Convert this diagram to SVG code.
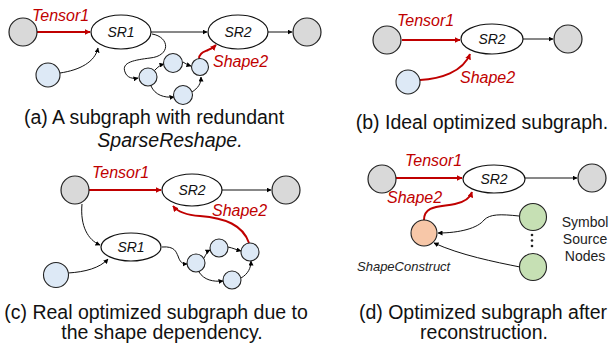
<svg xmlns="http://www.w3.org/2000/svg" width="615" height="348" viewBox="0 0 615 348">
  <defs>
    <marker id="ah" viewBox="0 0 10 10" refX="9" refY="5" markerWidth="5" markerHeight="5" orient="auto" markerUnits="userSpaceOnUse">
      <path d="M0,0 L10,5 L0,10 z" fill="#000"/>
    </marker>
    <marker id="ahr" viewBox="0 0 10 10" refX="9" refY="5" markerWidth="6" markerHeight="6" orient="auto" markerUnits="userSpaceOnUse">
      <path d="M0,0 L10,5 L0,10 z" fill="#c00000"/>
    </marker>
    <style>
      .gray { fill: #d9d9d9; stroke: #222; stroke-width: 1.2; }
      .blue { fill: #dde9f6; stroke: #222; stroke-width: 1.1; }
      .green { fill: #c6e0b4; stroke: #222; stroke-width: 1.1; }
      .orange { fill: #f7c7a8; stroke: #222; stroke-width: 1.1; }
      .op { fill: #fff; stroke: #111; stroke-width: 1.2; }
      .e { fill: none; stroke: #111; stroke-width: 1; marker-end: url(#ah); }
      .r { fill: none; stroke: #c00000; stroke-width: 2; marker-end: url(#ahr); }
      .lbl { font-family: "Liberation Sans", Arial, sans-serif; font-style: italic; font-size: 16px; fill: #c00000; }
      .op-t { font-family: "Liberation Sans", Arial, sans-serif; font-style: italic; font-size: 14px; fill: #111; text-anchor: middle; }
      .cap { font-family: "Liberation Sans", Arial, sans-serif; font-size: 19.5px; fill: #111; text-anchor: middle; }
      .note { font-family: "Liberation Sans", Arial, sans-serif; font-size: 14px; fill: #222; text-anchor: middle; }
    </style>
  </defs>

  <!-- (a) subgraph with redundant SparseReshape -->
  <g id="a-connectors">
    <path class="r" d="M37,32 L90,32"/>
    <path class="e" d="M151,32 L207,32"/>
    <path class="e" d="M268,32 L292,32"/>
    <path class="e" d="M60,73 C80,70 95,62 98,48"/>
    <path class="e" d="M152,34 C170,37 171,56 150,58 C135,60 121,62 125,72 C127,78 133,79 138,78"/>
    <path class="e" d="M155,70 C158,67 160,65 164,64"/>
    <path class="e" d="M183,62 C186,64 188,65 191,66"/>
    <path class="e" d="M151,86 C155,95 164,98 174,97"/>
    <path class="e" d="M192,92 C198,88 201,84 201,77"/>
    <path class="r" d="M199,59 C199,53 204,52 208,50 C212,49 214,47 216,45"/>
  </g>
  <g id="a-in"><circle class="gray" cx="23" cy="32" r="14"/></g>
  <g id="a-out"><circle class="gray" cx="307" cy="32" r="14"/></g>
  <g id="a-sr1"><ellipse class="op" cx="121" cy="32" rx="30" ry="17"/><text class="op-t" x="121" y="37">SR1</text></g>
  <g id="a-sr2"><ellipse class="op" cx="238" cy="32" rx="30" ry="17"/><text class="op-t" x="238" y="37">SR2</text></g>
  <g id="a-src"><circle class="blue" cx="48" cy="75" r="12"/></g>
  <g id="a-c1"><circle class="blue" cx="148" cy="77" r="9"/></g>
  <g id="a-c2"><circle class="blue" cx="173" cy="63" r="9.5"/></g>
  <g id="a-c3"><circle class="blue" cx="200" cy="67" r="8.5"/></g>
  <g id="a-c4"><circle class="blue" cx="183" cy="95" r="9.5"/></g>
  <text class="lbl" x="32" y="21">Tensor1</text>
  <text class="lbl" x="213" y="67">Shape2</text>
  <text class="cap" x="154" y="124">(a) A subgraph with redundant</text>
  <text class="cap" x="170" y="147" font-style="italic">SparseReshape.</text>

  <!-- (b) ideal optimized subgraph -->
  <g id="b-connectors">
    <path class="r" d="M402,40 L460,40"/>
    <path class="e" d="M523,39 L553,39"/>
    <path class="r" d="M420,80 C440,79 463,72 470,54"/>
  </g>
  <g id="b-in"><circle class="gray" cx="387" cy="40" r="14"/></g>
  <g id="b-out"><circle class="gray" cx="568" cy="39" r="14"/></g>
  <g id="b-sr2"><ellipse class="op" cx="492" cy="39" rx="31" ry="15"/><text class="op-t" x="492" y="44">SR2</text></g>
  <g id="b-src"><circle class="blue" cx="408" cy="82" r="12"/></g>
  <text class="lbl" x="397" y="26">Tensor1</text>
  <text class="lbl" x="460" y="83">Shape2</text>
  <text class="cap" x="482" y="129">(b) Ideal optimized subgraph.</text>

  <!-- (c) real optimized subgraph -->
  <g id="c-connectors">
    <path class="r" d="M89,190 L161,190"/>
    <path class="e" d="M222,190 L271,190"/>
    <path class="e" d="M82,204 C80,226 88,240 100,245"/>
    <path class="e" d="M68,273 C85,272 100,268 108,259"/>
    <path class="e" d="M162,247 C175,246 176,252 178,256 C180,262 182,264 187,264"/>
    <path class="e" d="M204,258 C206,254 208,251 210,250"/>
    <path class="e" d="M228,247 C233,248 237,250 241,251"/>
    <path class="e" d="M199,272 C204,280 213,282 223,281"/>
    <path class="e" d="M241,278 C248,274 251,268 251,261"/>
    <path class="r" d="M249,243 C243,225 225,218 200,216 C185,215 177,211 173,206"/>
  </g>
  <g id="c-in"><circle class="gray" cx="75" cy="190" r="14"/></g>
  <g id="c-out"><circle class="gray" cx="286" cy="190" r="14"/></g>
  <g id="c-sr2"><ellipse class="op" cx="192" cy="190" rx="30" ry="16"/><text class="op-t" x="192" y="195">SR2</text></g>
  <g id="c-sr1"><ellipse class="op" cx="131" cy="247" rx="30" ry="14"/><text class="op-t" x="131" y="252">SR1</text></g>
  <g id="c-src"><circle class="blue" cx="56" cy="275" r="12.5"/></g>
  <g id="c-c1"><circle class="blue" cx="196" cy="263" r="9"/></g>
  <g id="c-c2"><circle class="blue" cx="219" cy="248" r="9"/></g>
  <g id="c-c3"><circle class="blue" cx="250" cy="252" r="9"/></g>
  <g id="c-c4"><circle class="blue" cx="232" cy="280" r="9"/></g>
  <text class="lbl" x="92" y="178">Tensor1</text>
  <text class="lbl" x="212" y="216">Shape2</text>
  <text class="cap" x="156" y="319">(c) Real optimized subgraph due to</text>
  <text class="cap" x="162" y="339">the shape dependency.</text>

  <!-- (d) optimized subgraph after reconstruction -->
  <g id="d-connectors">
    <path class="r" d="M396,178 L462,178"/>
    <path class="e" d="M525,178 L577,178"/>
    <path class="r" d="M424,220 C424,205 440,207 455,204 C465,202 470,198 472,192"/>
    <path class="e" d="M519,216 C500,214 490,214 484,220 C478,228 460,233 438,233"/>
    <path class="e" d="M520,267 C495,262 460,255 434,243"/>
  </g>
  <g id="d-in"><circle class="gray" cx="382" cy="179" r="14"/></g>
  <g id="d-out"><circle class="gray" cx="592" cy="178" r="14"/></g>
  <g id="d-sr2"><ellipse class="op" cx="494" cy="179" rx="31" ry="14"/><text class="op-t" x="494" y="184">SR2</text></g>
  <g id="d-shapeconstruct"><circle class="orange" cx="424" cy="233" r="13"/></g>
  <g id="d-sym1"><circle class="green" cx="533" cy="217" r="13.5"/></g>
  <g id="d-sym2"><circle class="green" cx="533" cy="267" r="13.5"/></g>
  <g id="d-dots" fill="#222">
    <circle cx="532" cy="235" r="1.3"/>
    <circle cx="532" cy="240.5" r="1.3"/>
    <circle cx="532" cy="246" r="1.3"/>
  </g>
  <text class="lbl" x="405" y="166">Tensor1</text>
  <text class="lbl" x="387" y="203">Shape2</text>
  <text class="note" x="585" y="227">Symbol</text>
  <text class="note" x="585" y="244">Source</text>
  <text class="note" x="585" y="261">Nodes</text>
  <text x="357" y="271" font-family="Liberation Sans, Arial, sans-serif" font-style="italic" font-size="13px" fill="#222">ShapeConstruct</text>
  <text class="cap" x="483" y="319">(d) Optimized subgraph after</text>
  <text class="cap" x="484" y="339">reconstruction.</text>
</svg>
